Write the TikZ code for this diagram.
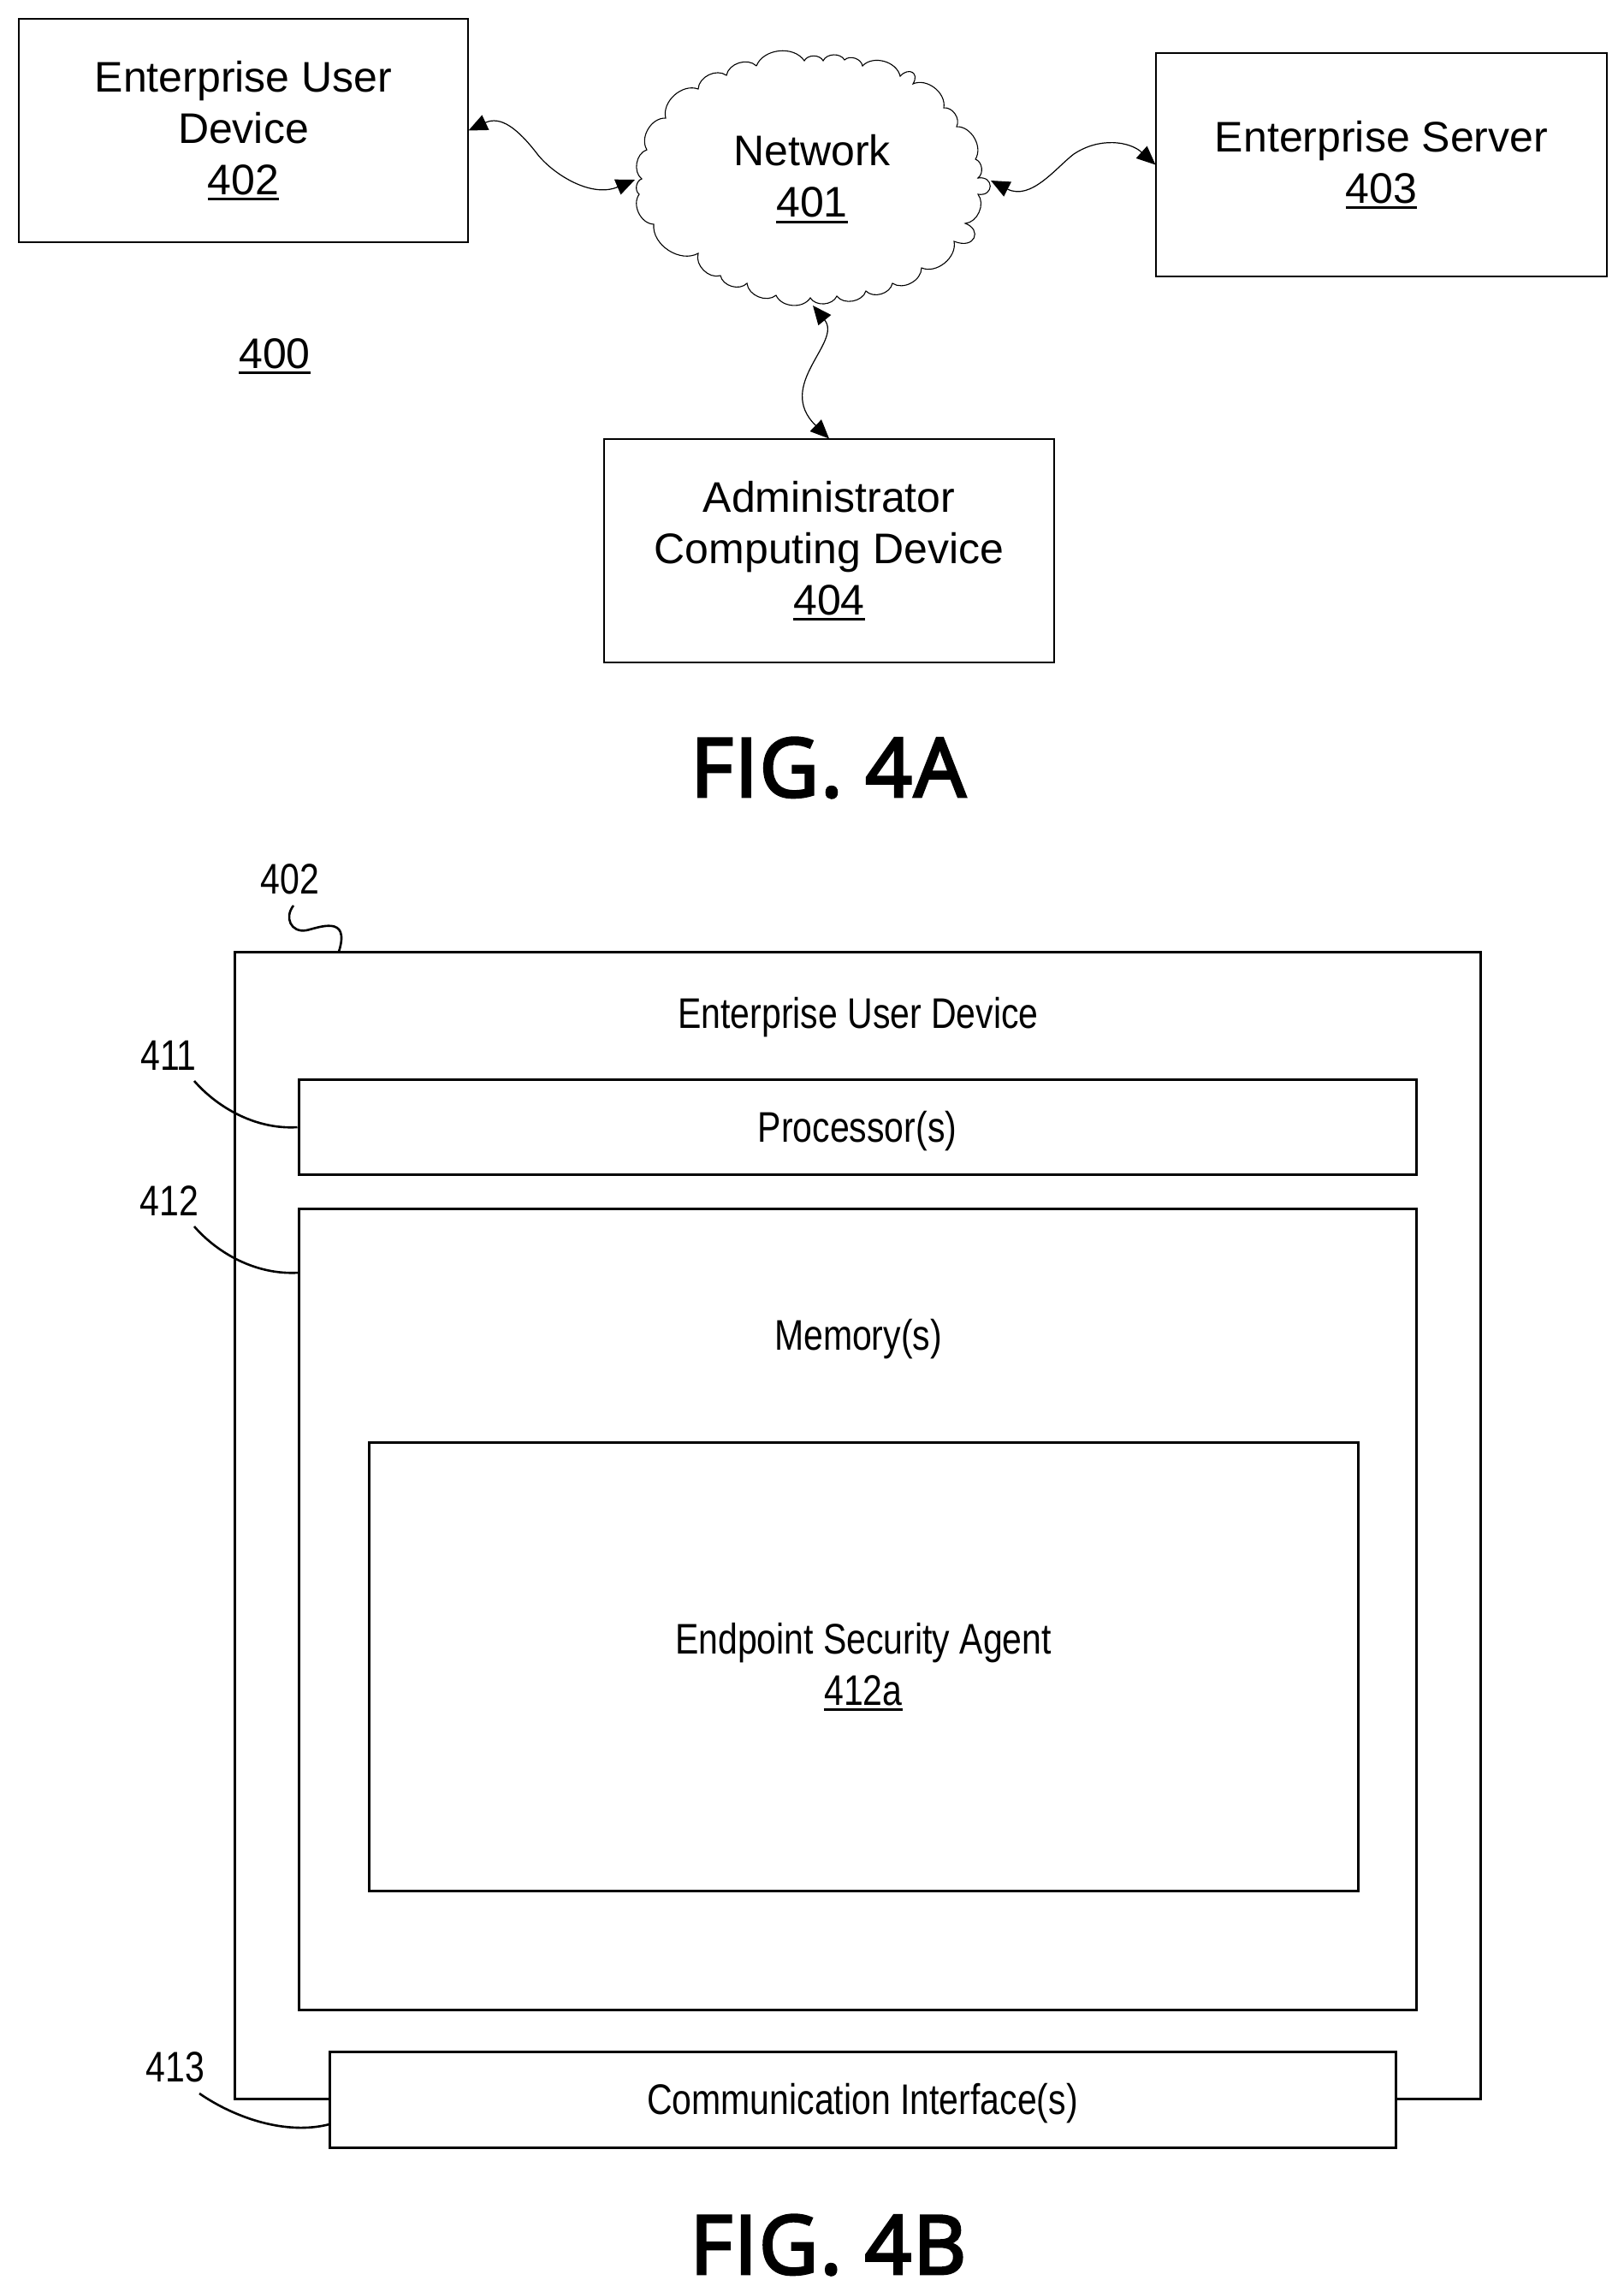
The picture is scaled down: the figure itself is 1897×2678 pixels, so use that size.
\documentclass[tikz,border=0pt]{standalone}
\usepackage{fontspec}
\setmainfont{Liberation Sans}
\newfontfamily\narrowfont[FakeStretch=0.82]{Liberation Sans}
\newfontfamily\figfont[FakeBold=3.5,LetterSpace=2.5]{Open Sans}
\usetikzlibrary{arrows.meta}
\newcommand{\refnum}[1]{\setbox0\hbox{#1}\rlap{\vrule width\wd0 height -2pt depth 3.4pt}\box0}

\begin{document}
\begin{tikzpicture}[x=.5pt,y=-.5pt,join=miter,>={Triangle[length=11pt,width=9.5pt]}]
    \tikzstyle{thinbox} = [draw,line width=.55pt,fill=white,align=center,inner sep=0pt,
                           font=\fontsize{25}{30}\selectfont]
    \tikzstyle{thickbox} = [draw,line width=1.5pt,fill=white,align=center,inner sep=0pt,
                            font=\narrowfont\fontsize{25}{30}\selectfont]
    \tikzstyle{plain} = [align=center,inner sep=0pt,font=\fontsize{25}{30}\selectfont]
    \tikzstyle{tag} = [inner sep=0pt,font=\narrowfont\fontsize{25}{30}\selectfont]
    \tikzstyle{figcap} = [inner sep=0pt,font=\figfont\fontsize{47.5}{50}\selectfont]
    \tikzstyle{wire} = [arrows={<->},line width=.6pt]
    \tikzstyle{lead} = [line width=1.3pt]
    \useasboundingbox (0,0) rectangle (1897,2678);
    % Fig. 4A
    \draw[line width=.55pt,fill=white] (884,77)
        \foreach \x/\y in {940/71,962/71,987/70,1008/77,1052/89} { to[bend left=62] (\x,\y) }
        .. controls (1062,78) and (1075,85) .. (1067,98)
        \foreach \x/\y in {1103/126,1118/148,1140/186,1143/208} { to[bend left=62] (\x,\y) }
        .. controls (1162,205) and (1162,230) .. (1143,227)
        to[bend left=62] (1128,261)
        .. controls (1148,268) and (1140,292) .. (1115,282)
        \foreach \x/\y in {1077/313,1043/331,1012/340,978/346,947/348,907/345,873/331,
        842/322,816/296,764/262,747/227,750/209,756/175,778/138,816/104,
        849/88,884/77} { to[bend left=62] (\x,\y) };
    \node[plain] (network) at (949,209) {Network\\\refnum{401}};
    \node[thinbox,minimum width=262.5pt,minimum height=130.5pt]
        (userdev) at (284.5,152.5) {Enterprise User\\Device\\\refnum{402}};
    \node[thinbox,minimum width=263.5pt,minimum height=130.5pt]
        (server) at (1614.5,192.5) {Enterprise Server\\\refnum{403}};
    \node[thinbox,minimum width=263pt,minimum height=130.5pt] (admin) at (969,643.5)
        {Administrator\\Computing Device\\\refnum{404}};
    \node[plain] (sys) at (321,416) {\refnum{400}};
    \coordinate (netl) at (742,210);
    \coordinate (netr) at (1158,211);
    \coordinate (netb) at (950,357);
    \draw[wire] (userdev.east) .. controls (585,135) and (605,150) .. (628,180)
                               .. controls (645,202) and (690,232) .. (netl);
    \draw[wire] (netr) .. controls (1205,235) and (1235,195) .. (1255,180)
                       .. controls (1285,160) and (1320,165) .. (server.west);
    \draw[wire] (netb) .. controls (985,400) and (905,450) .. (admin.north);
    \node[figcap] (figa) at (968,897) {FIG. 4A};
    % Fig. 4B
    \node[thickbox,minimum width=728pt,minimum height=670pt] (device) at (1002,1782) {};
    \node[plain,font=\narrowfont\fontsize{25}{30}\selectfont] (devtext) at (1003,1189) {Enterprise User Device};
    \node[thickbox,minimum width=653pt,minimum height=55.5pt,text depth=1pt] (proc) at (1002,1317) {Processor(s)};
    \node[thickbox,minimum width=653pt,minimum height=468pt] (mem) at (1002,1880) {};
    \node[plain,font=\narrowfont\fontsize{25}{30}\selectfont] (memtext) at (1003,1565) {Memory(s)};
    \node[thickbox,minimum width=578pt,minimum height=262pt] (agent) at (1009,1947.5)
        {Endpoint Security Agent\\\refnum{412a}};
    \node[thickbox,minimum width=623pt,minimum height=56pt,text depth=1pt] (comm) at (1008,2453) {Communication Interface(s)};
    \node[tag] (t402) at (339,1027) {402};
    \node[tag] (t411) at (197,1233) {411};
    \node[tag] (t412) at (198,1403) {412};
    \node[tag] (t413) at (205,2415) {413};
    \coordinate (c402a) at (343,1058);
    \coordinate (c402b) at (396,1112);
    \coordinate (c412a) at (227,1433);
    \coordinate (c412b) at (349,1487);
    \coordinate (c411) at (227,1263);
    \coordinate (c413a) at (233,2446);
    \coordinate (c413b) at (385,2482);
    \draw[lead] (c402a) .. controls (332,1072) and (340,1090) .. (358,1087)
                        .. controls (372,1084) and (410,1068) .. (c402b);
    \draw[lead] (c411) .. controls (255,1295) and (300,1320) .. (proc.west);
    \draw[lead] (c412a) .. controls (255,1465) and (300,1490) .. (c412b);
    \draw[lead] (c413a) .. controls (275,2475) and (335,2495) .. (c413b);
    \node[figcap] (figb) at (968,2623) {FIG. 4B};
\end{tikzpicture}
\end{document}
